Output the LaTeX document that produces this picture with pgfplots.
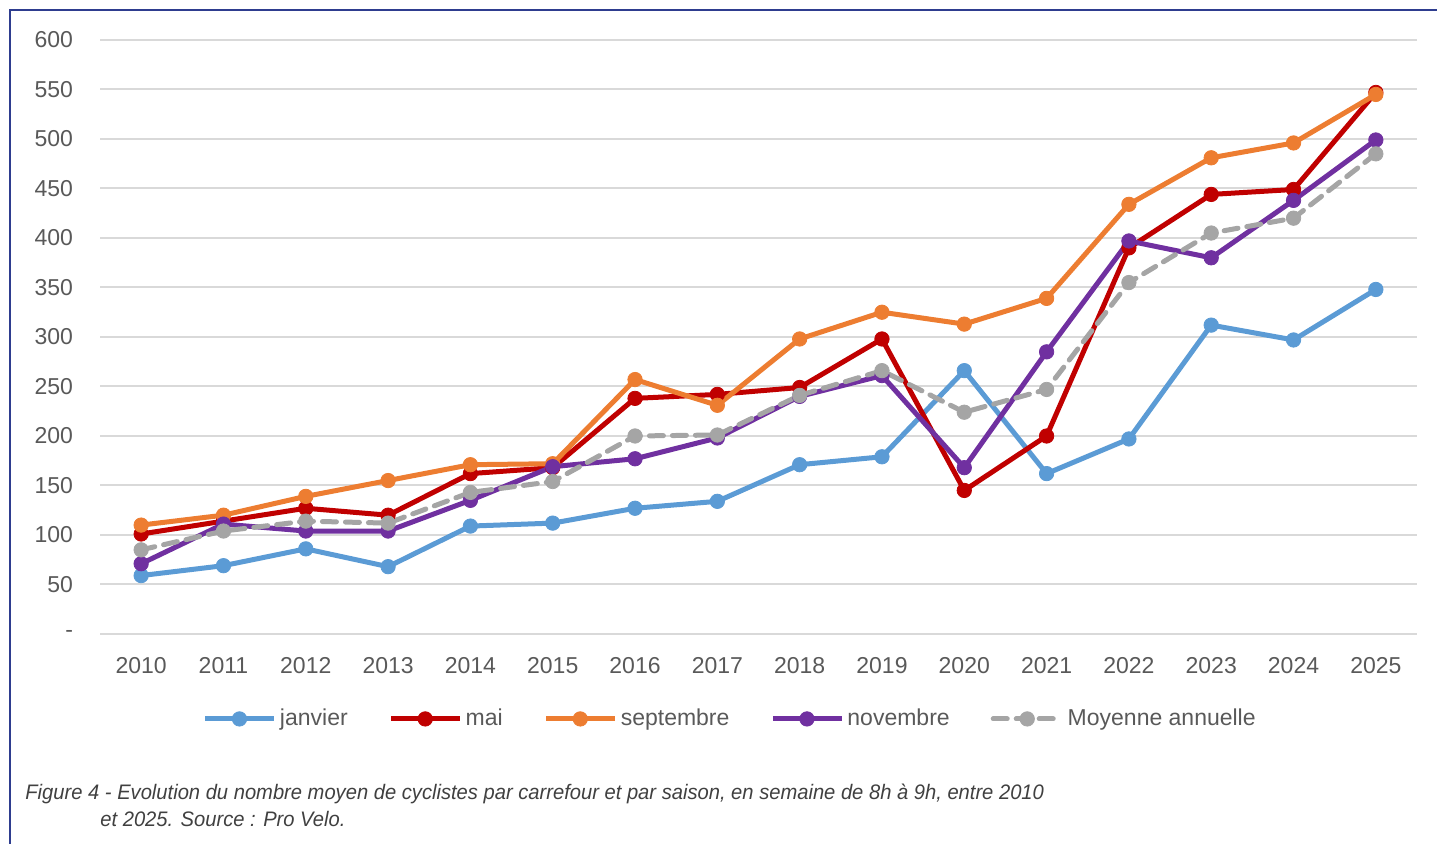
\documentclass[border=0pt]{standalone}
\usepackage{fontspec}
\setmainfont{Liberation Sans}
\newfontfamily\capfont[FakeStretch=0.96]{Liberation Sans}
\usepackage{pgfplots}
\pgfplotsset{compat=1.18}
\definecolor{cjan}{HTML}{5B9BD5}
\definecolor{cmai}{HTML}{C00000}
\definecolor{csep}{HTML}{ED7D31}
\definecolor{cnov}{HTML}{7030A0}
\definecolor{cmoy}{HTML}{A5A5A5}
\definecolor{cgrid}{HTML}{D9D9D9}
\definecolor{ctick}{HTML}{595959}
\definecolor{cframe}{HTML}{2E3D8F}
\definecolor{ccap}{HTML}{404040}
\begin{document}
\begin{tikzpicture}
\path[use as bounding box] (0,0) rectangle (718.5pt,422pt);
\draw[color=cframe, line width=0.8pt] (5pt,0) -- (5pt,417pt) -- (718.5pt,417pt);
\begin{axis}[
  at={(50pt,105pt)}, anchor=south west,
  scale only axis, width=658.5pt, height=297pt,
  xmin=2009.5, xmax=2025.5, ymin=0, ymax=600,
  axis line style={draw=none},
  major tick length=0pt,
  xtick={2010,2011,2012,2013,2014,2015,2016,2017,2018,2019,2020,2021,2022,2023,2024,2025},
  xticklabels={2010,2011,2012,2013,2014,2015,2016,2017,2018,2019,2020,2021,2022,2023,2024,2025},
  ytick={0,50,100,150,200,250,300,350,400,450,500,550,600},
  yticklabels={{-\hspace{6pt}},50,100,150,200,250,300,350,400,450,500,550,600},
  ymajorgrids, grid style={color=cgrid, line width=1pt},
  tick label style={font=\fontsize{11.5}{13}\selectfont, text=ctick},
  yticklabel style={xshift=-10pt},
  xticklabel style={yshift=-8pt},
  every axis plot/.append style={line width=2.5pt, mark=*, mark size=3.6pt, line join=round},
  legend columns=5,
  legend style={draw=none, fill=none, at={(axis description cs:0.479,-0.143)}, anchor=center,
    font=\fontsize{11.5}{13}\selectfont, text=ctick, inner sep=0pt,
    nodes={inner sep=1.5pt},
    /tikz/every even column/.append style={column sep=19pt}},
  legend image code/.code={\draw[mark repeat=2,mark phase=2,#1] plot coordinates {(0pt,0pt) (17pt,0pt) (34.5pt,0pt)};},
]
\addplot[color=cjan, mark options={solid, fill=cjan, line width=0.4pt}] coordinates {
(2010,59)(2011,69)(2012,86)(2013,68)(2014,109)(2015,112)(2016,127)(2017,134)
(2018,171)(2019,179)(2020,266)(2021,162)(2022,197)(2023,312)(2024,297)(2025,348)};
\addlegendentry{janvier}
\addplot[color=cmai, mark options={solid, fill=cmai, line width=0.4pt}] coordinates {
(2010,101)(2011,114)(2012,127)(2013,120)(2014,162)(2015,168)(2016,238)(2017,242)
(2018,249)(2019,298)(2020,145)(2021,200)(2022,390)(2023,444)(2024,449)(2025,547)};
\addlegendentry{mai}
\addplot[color=csep, mark options={solid, fill=csep, line width=0.4pt}] coordinates {
(2010,110)(2011,120)(2012,139)(2013,155)(2014,171)(2015,172)(2016,257)(2017,231)
(2018,298)(2019,325)(2020,313)(2021,339)(2022,434)(2023,481)(2024,496)(2025,545)};
\addlegendentry{septembre}
\addplot[color=cnov, mark options={solid, fill=cnov, line width=0.4pt}] coordinates {
(2010,71)(2011,111)(2012,104)(2013,104)(2014,135)(2015,169)(2016,177)(2017,198)
(2018,240)(2019,261)(2020,168)(2021,285)(2022,397)(2023,380)(2024,438)(2025,499)};
\addlegendentry{novembre}
\addplot[color=cmoy, dash pattern=on 7pt off 4.5pt, line cap=round, mark options={solid, fill=cmoy, line width=0.4pt}] coordinates {
(2010,85)(2011,104)(2012,114)(2013,112)(2014,143)(2015,154)(2016,200)(2017,201)
(2018,241)(2019,266)(2020,224)(2021,247)(2022,355)(2023,405)(2024,420)(2025,485)};
\addlegendentry{Moyenne annuelle}
\end{axis}
\node[anchor=base west, inner sep=0pt, text=ccap, font=\capfont\itshape\fontsize{10.5}{12}\selectfont] at (12.5pt,22pt) {Figure 4 - Evolution du nombre moyen de cyclistes par carrefour et par saison, en semaine de 8h à 9h, entre 2010};
\node[anchor=base west, inner sep=0pt, text=ccap, font=\capfont\itshape\fontsize{10.5}{12}\selectfont] at (50pt,8.5pt) {et 2025. Source : Pro Velo.};
\end{tikzpicture}
\end{document}
